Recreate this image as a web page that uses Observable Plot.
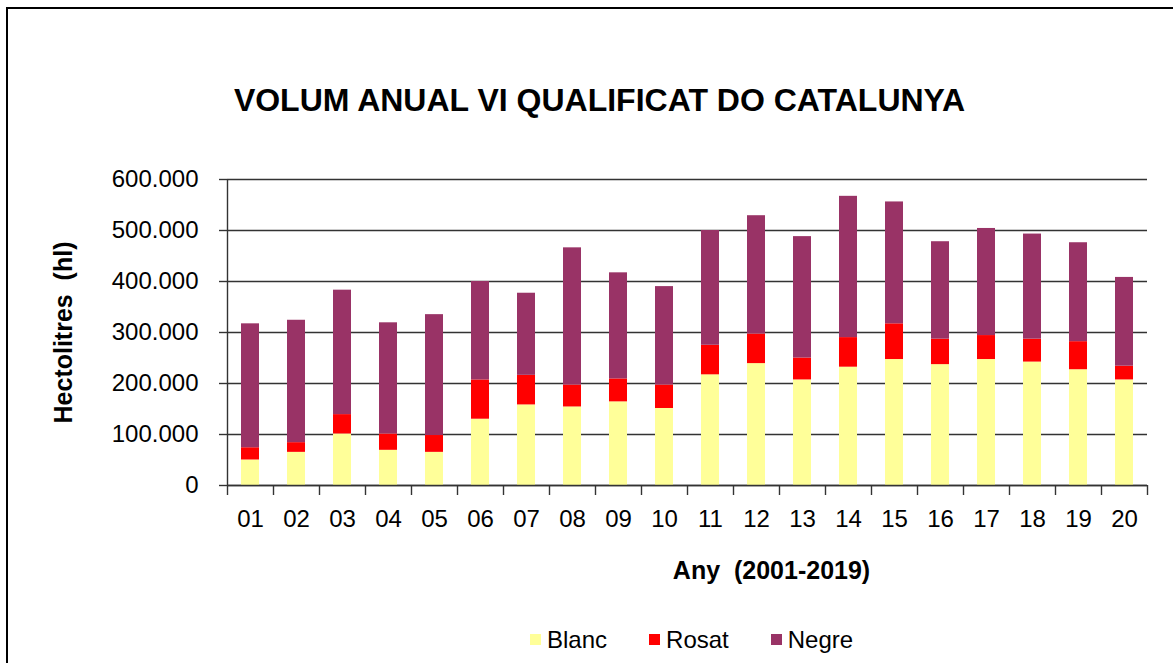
<!DOCTYPE html>
<html>
<head>
<meta charset="utf-8">
<script src="https://cdn.jsdelivr.net/npm/d3@7"></script>
<script src="https://cdn.jsdelivr.net/npm/@observablehq/plot@0.6"></script>
<style>
  body { margin: 0; background: #fff; font-family: "Liberation Sans", Arial, sans-serif; }
  #wrap { position: relative; width: 1173px; height: 663px; overflow: hidden; background: #fff; }
  #border { position: absolute; left: 6px; top: 7px; width: 1200px; height: 700px; border-left: 2px solid #000; border-top: 2px solid #000; }
  #title { position: absolute; left: 0; top: 81px; width: 1199px; text-align: center; font-weight: bold; font-size: 32px; line-height: 38px; color: #000; }
  #chart { position: absolute; left: 0; top: 150px; }
  #legend { position: absolute; left: 530px; top: 623px; font-size: 23px; color: #000; }
  .lg-swatch { margin-right: 42px !important; }
  .lg-swatch > svg { margin-right: 6px !important; }
  svg text { white-space: pre; }
</style>
</head>
<body>
<div id="wrap">
  <div id="border"></div>
  <div id="title">VOLUM ANUAL VI QUALIFICAT DO CATALUNYA</div>
  <div id="chart"></div>
  <div id="legend"></div>
</div>
<script>
// Data (hectolitres, thousands)
const years = ["01","02","03","04","05","06","07","08","09","10","11","12","13","14","15","16","17","18","19","20"];
const blanc = [50,65,101,69,65,130,158,154,164,151,217,239,207,232,247,237,247,242,227,207];
const rosat = [24,19,38,32,33,77,58,43,45,46,58,58,43,58,70,50,47,45,55,27];
const negre = [243,240,244,218,237,193,161,269,208,193,225,232,238,277,239,191,210,206,194,174];
const series = ["Blanc","Rosat","Negre"];
const colors = ["#FFFF99","#FF0000","#993366"];
const yTicks = [0,100000,200000,300000,400000,500000,600000];
const xLabel = "Any  (2001-2019)";
const yLabel = "Hectolitres  (hl)";

const table = [];
years.forEach((y, i) => {
  table.push({year: y, type: "Blanc", value: blanc[i] * 1000});
  table.push({year: y, type: "Rosat", value: rosat[i] * 1000});
  table.push({year: y, type: "Negre", value: negre[i] * 1000});
});

const loc = d3.formatLocale({decimal: ",", thousands: ".", grouping: [3], currency: ["", "€"]});
const fmt = loc.format(",");

const W = 1173, H = 450, mL = 227, mR = 26, mT = 29, mB = 115;
const step = (W - mL - mR) / years.length;
const axisColor = "#333";

const plot = Plot.plot({
  width: W, height: H,
  marginLeft: mL, marginRight: mR, marginTop: mT, marginBottom: mB,
  style: {fontFamily: "'Liberation Sans', Arial, sans-serif", fontSize: "24px", color: "#000", background: "transparent", overflow: "visible"},
  x: {type: "band", domain: years, padding: 0, axis: null},
  y: {domain: [0, 600000], axis: null},
  color: {domain: series, range: colors},
  marks: [
    Plot.gridY(yTicks, {stroke: axisColor, strokeOpacity: 1, strokeWidth: 1.4}),
    Plot.barY(table, Plot.stackY({x: "year", y: "value", fill: "type", insetLeft: 14, insetRight: 14, order: null})),
    Plot.ruleY([0], {stroke: axisColor, strokeWidth: 1.4}),
    Plot.ruleX([years[0]], {x: d => d, dx: -step / 2, y1: 0, y2: 600000, stroke: axisColor, strokeWidth: 1.4}),
    Plot.ruleX(years, {x: d => d, dx: -step / 2, y1: 0, y2: 0, insetBottom: -10, stroke: axisColor, strokeWidth: 1.4}),
    Plot.ruleX([years[years.length - 1]], {x: d => d, dx: step / 2, y1: 0, y2: 0, insetBottom: -10, stroke: axisColor, strokeWidth: 1.4}),
    Plot.axisY(yTicks, {tickSize: 8, tickPadding: 21, tickFormat: fmt, label: null, stroke: axisColor, strokeWidth: 1.4, fontSize: 24}),
    Plot.axisX({tickSize: 0, tickPadding: 24, label: null}),
    Plot.text([xLabel], {frameAnchor: "bottom", textAnchor: "middle", lineAnchor: "middle", dy: 85, dx: 84, fontWeight: "bold", fontSize: 25}),
    Plot.text([yLabel], {frameAnchor: "left", textAnchor: "middle", lineAnchor: "middle", rotate: -90, dx: -164, fontWeight: "bold", fontSize: 25})
  ]
});
document.getElementById("chart").appendChild(plot);

const legend = Plot.legend({color: {domain: series, range: colors}, swatchSize: 11, className: "lg", style: {fontFamily: "'Liberation Sans', Arial, sans-serif", fontSize: "24px", color: "#000"}});
document.getElementById("legend").appendChild(legend);
</script>
</body>
</html>
